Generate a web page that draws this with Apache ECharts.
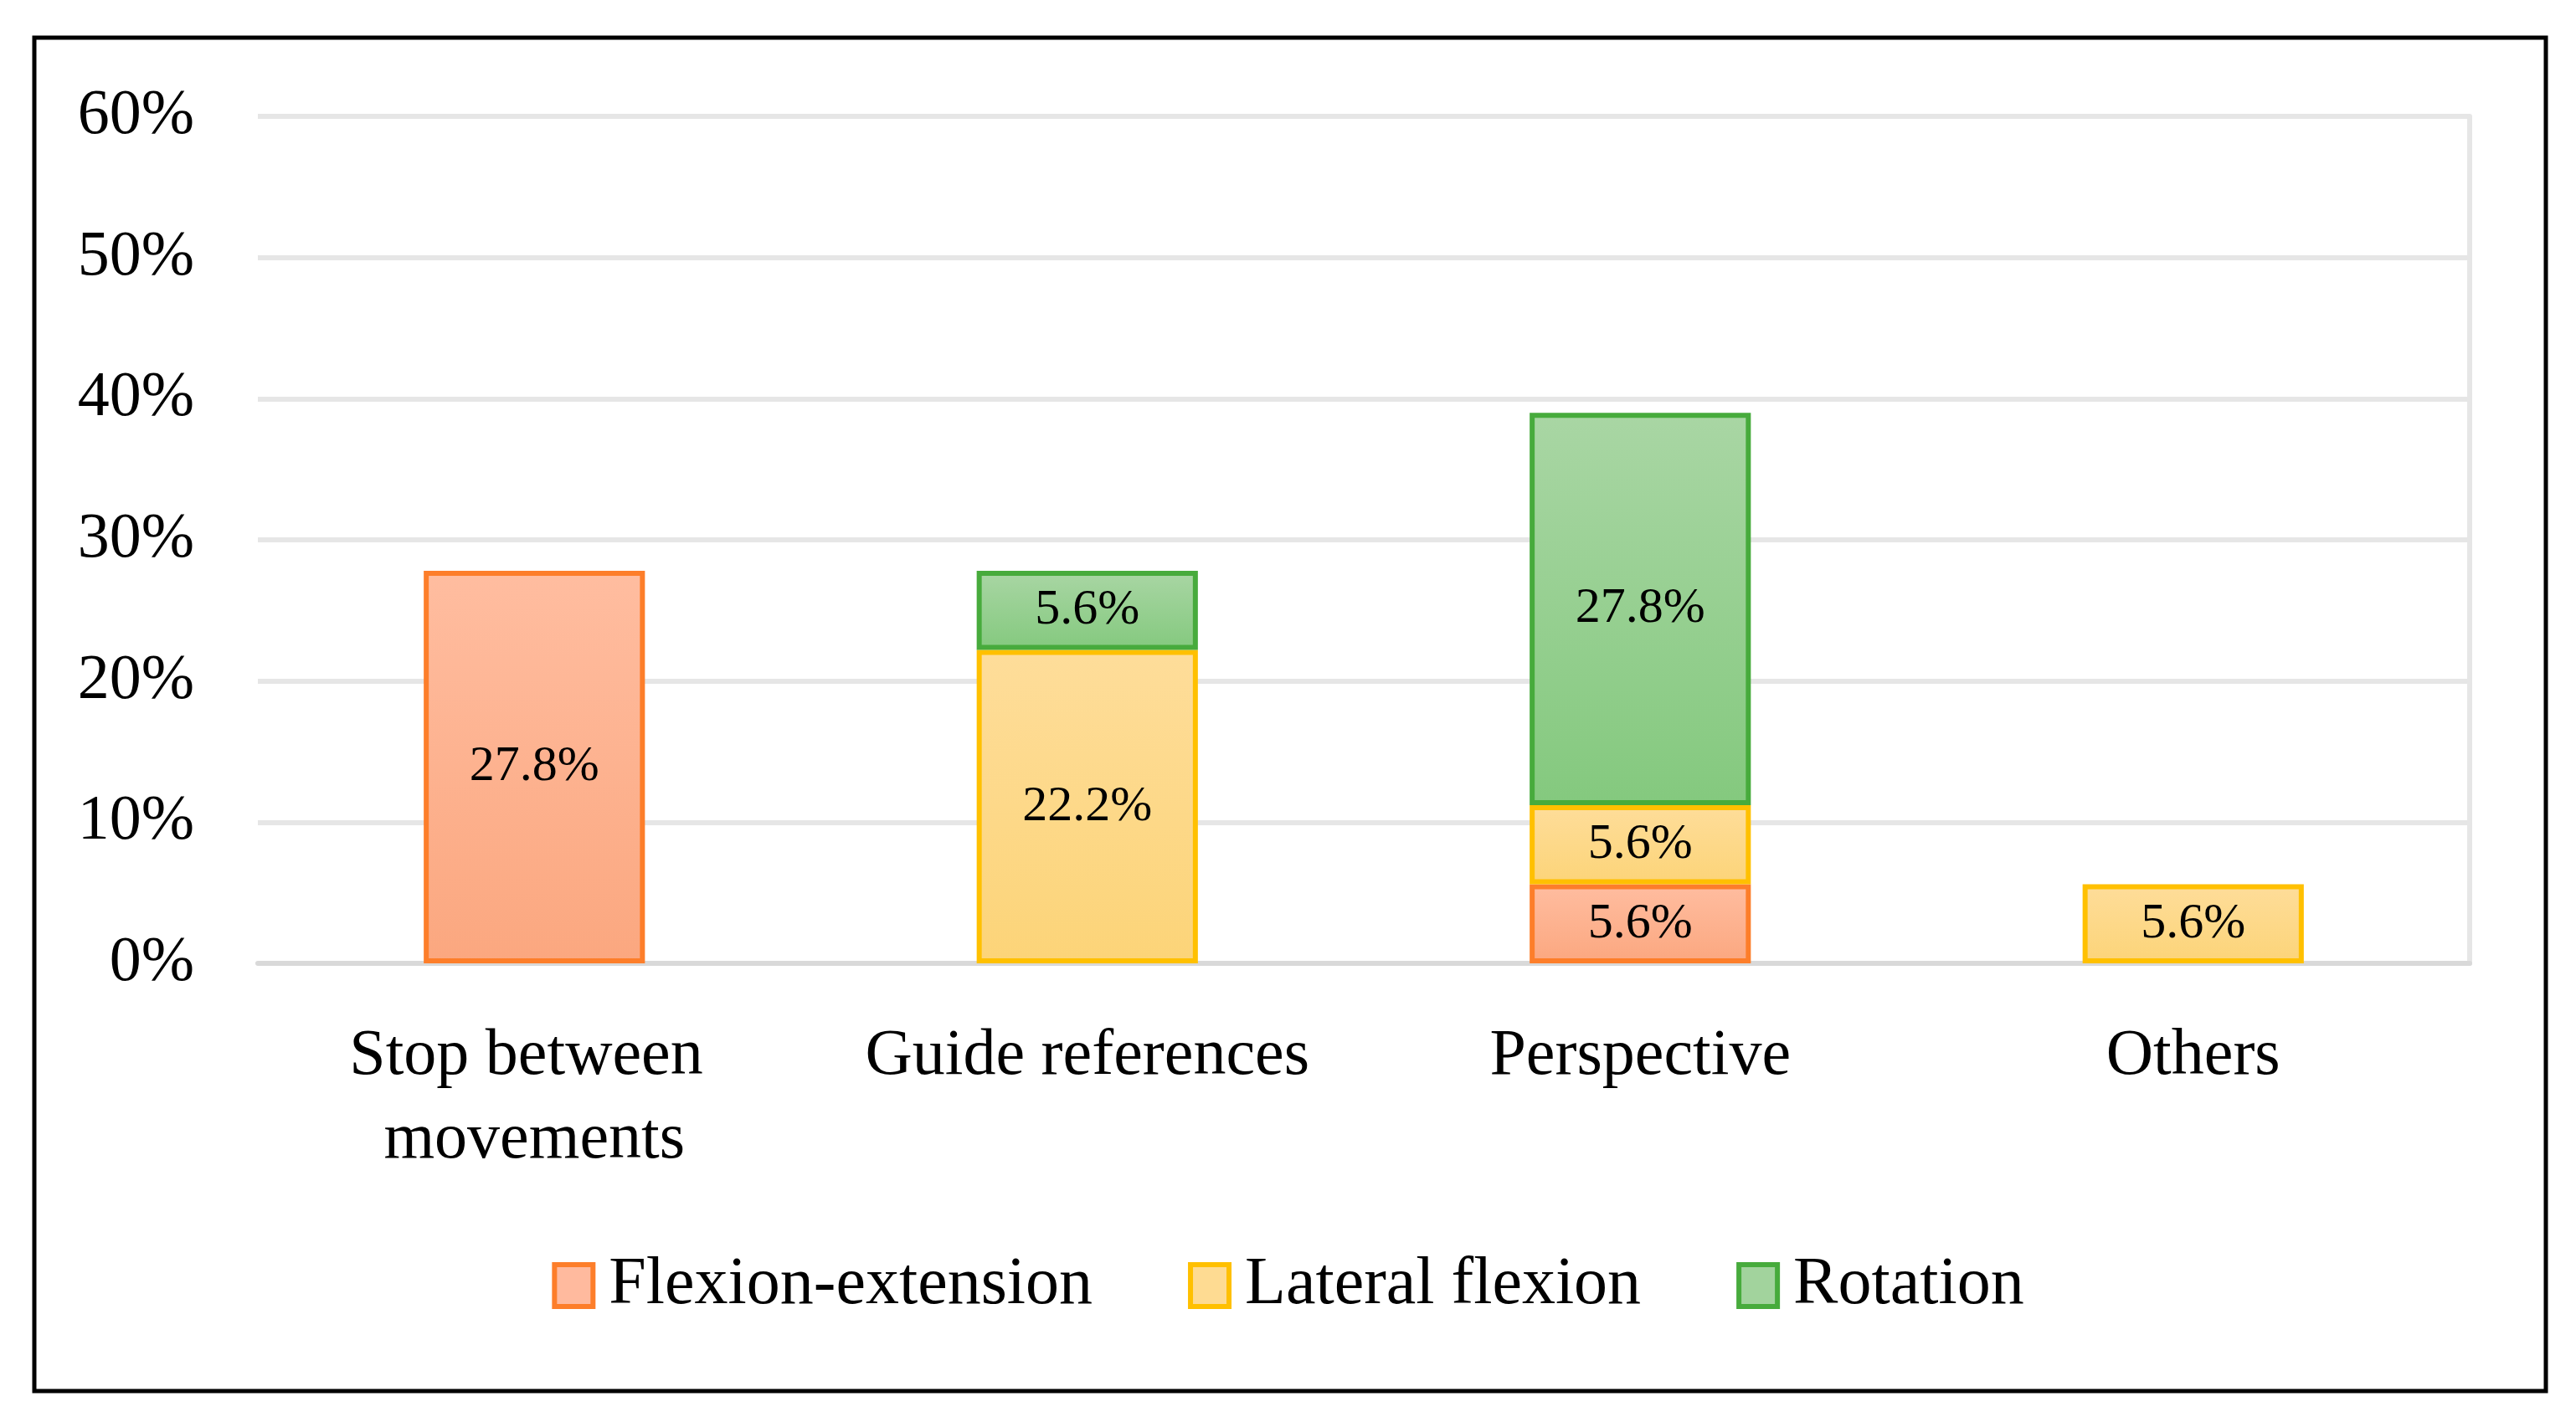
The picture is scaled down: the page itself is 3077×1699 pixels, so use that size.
<!DOCTYPE html>
<html>
<head>
<meta charset="utf-8">
<script src="https://cdn.jsdelivr.net/npm/echarts@6/dist/echarts.min.js"></script>
<style>
html,body{margin:0;padding:0;background:#fff;}
#chart{width:3077px;height:1699px;}
</style>
</head>
<body>
<div id="chart"></div>
<script>
var categories = ['Stop between movements', 'Guide references', 'Perspective', 'Others'];
var flexionExtension = [27.8, null, 5.6, null];
var lateralFlexion = [null, 22.2, 5.6, 5.6];
var rotation = [null, 5.6, 27.8, null];
var yTicks = [0, 10, 20, 30, 40, 50, 60];

var FONT = '"Palatino Linotype", "Book Antiqua", Palatino, "Liberation Serif", serif';
var chart = echarts.init(document.getElementById('chart'), null, {renderer: 'canvas'});

function grad(top, bottom) {
  return new echarts.graphic.LinearGradient(0, 0, 0, 1, [
    {offset: 0, color: top}, {offset: 1, color: bottom}
  ]);
}
var styles = {
  'Flexion-extension': {fill: grad('#FFBDA0', '#FBA77F'), border: '#FD7E2A', legendFill: '#FFBA9E'},
  'Lateral flexion': {fill: grad('#FEDD9A', '#FCD478'), border: '#FFC000', legendFill: '#FEDB92'},
  'Rotation': {fill: grad('#A9D6A4', '#84C97E'), border: '#47AB3C', legendFill: '#A2D39D'}
};
function mkSeries(name, data) {
  return {
    name: name,
    type: 'bar',
    stack: 'total',
    data: data,
    barWidth: '40%',
    itemStyle: {color: styles[name].fill, borderColor: styles[name].border, borderWidth: 6},
    label: {
      show: true,
      position: 'inside',
      color: '#000',
      fontFamily: FONT,
      fontSize: 60,
      formatter: function (p) { return p.value == null ? '' : p.value.toFixed(1) + '%'; }
    },
    emphasis: {disabled: true}
  };
}
var names = ['Flexion-extension', 'Lateral flexion', 'Rotation'];
var option = {
  animation: false,
  backgroundColor: '#fff',
  textStyle: {fontFamily: FONT},
  grid: {left: 308, right: 127, top: 139, bottom: 548, containLabel: false},
  legend: {
    bottom: 118,
    left: 'center',
    itemWidth: 46,
    itemHeight: 50,
    itemGap: 114,
    textStyle: {fontFamily: FONT, fontSize: 80, color: '#000', padding: [0, 0, 0, 14]},
    data: names.map(function (n) {
      return {name: n, icon: 'rect', itemStyle: {color: styles[n].legendFill, borderColor: styles[n].border, borderWidth: 6}};
    })
  },
  xAxis: {
    type: 'category',
    data: categories,
    axisTick: {show: false},
    axisLine: {show: true, lineStyle: {color: '#D9D9D9', width: 6}},
    axisLabel: {
      color: '#000', fontFamily: FONT, fontSize: 78, lineHeight: 100, margin: 62,
      width: 620, overflow: 'break', interval: 0
    }
  },
  yAxis: [{
    type: 'value',
    min: yTicks[0],
    max: yTicks[yTicks.length - 1],
    interval: 10,
    axisLine: {show: false},
    axisTick: {show: false},
    axisLabel: {color: '#000', fontFamily: FONT, fontSize: 76, margin: 76, formatter: '{value}%'},
    splitLine: {show: true, lineStyle: {color: '#E6E6E6', width: 6}}
  }, {
    type: 'value',
    position: 'right',
    min: yTicks[0],
    max: yTicks[yTicks.length - 1],
    interval: 10,
    axisLine: {show: true, lineStyle: {color: '#E6E6E6', width: 6}},
    axisTick: {show: false},
    axisLabel: {show: false},
    splitLine: {show: false}
  }],
  graphic: [{
    type: 'rect',
    shape: {x: 41, y: 45, width: 3000, height: 1617},
    style: {fill: 'none', stroke: '#000', lineWidth: 5},
    silent: true,
    z: 100
  }],
  series: [
    mkSeries('Flexion-extension', flexionExtension),
    mkSeries('Lateral flexion', lateralFlexion),
    mkSeries('Rotation', rotation)
  ]
};
chart.setOption(option);
</script>
</body>
</html>
